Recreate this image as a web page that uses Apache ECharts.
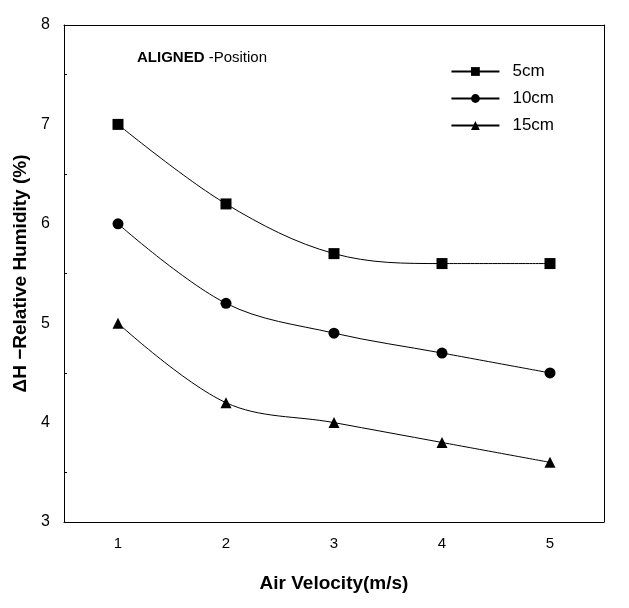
<!DOCTYPE html>
<html><head><meta charset="utf-8">
<script src="https://cdn.jsdelivr.net/npm/echarts@6/dist/echarts.min.js"></script>
<style>html,body{margin:0;background:#fff}#c{width:629px;height:608px}</style>
</head><body><div id="c"></div>
<script>
const categories = ['1','2','3','4','5'];
const s5cm = [7.0, 6.2, 5.7, 5.6, 5.6];
const s10cm = [6.0, 5.2, 4.9, 4.7, 4.5];
const s15cm = [5.0, 4.2, 4.0, 3.8, 3.6];
const ch = echarts.init(document.getElementById('c'));
const mk = (name, data, sym) => ({name, type:'line', data, smooth:0.35, symbol:sym, symbolSize:11,
  lineStyle:{color:'#000', width:1}, itemStyle:{color:'#000'}});
ch.setOption({
  animation:false,
  grid:{left:64, right:25, top:25, bottom:86},
  legend:{right:70, top:58, orient:'vertical', itemGap:10, itemWidth:48, itemHeight:11,
    textStyle:{fontFamily:'Arial', fontSize:17, color:'#000', padding:[0,0,0,8]},
    data:['5cm','10cm','15cm']},
  xAxis:[{type:'category', data:categories, boundaryGap:true,
    name:'Air Velocity(m/s)', nameLocation:'middle', nameGap:52,
    nameTextStyle:{fontFamily:'Arial', fontWeight:'bold', fontSize:19, color:'#000'},
    axisLine:{lineStyle:{color:'#000'}}, axisTick:{inside:true, alignWithLabel:true, length:6, lineStyle:{color:'#000'}},
    axisLabel:{fontFamily:'Arial', fontSize:15, color:'#000', margin:14}},
   {type:'category', data:categories, position:'top', axisLine:{lineStyle:{color:'#000'}}, axisTick:{show:false}, axisLabel:{show:false}}],
  yAxis:[{type:'value', min:3, max:8, interval:1,
    name:'ΔH −Relative Humidity (%)', nameLocation:'middle', nameGap:32,
    nameTextStyle:{fontFamily:'Arial', fontWeight:'bold', fontSize:19, color:'#000'},
    axisLine:{show:true, lineStyle:{color:'#000'}}, axisTick:{inside:true, length:6, lineStyle:{color:'#000'}},
    minorTick:{show:true, splitNumber:2, length:3, lineStyle:{color:'#000'}},
    splitLine:{show:false}, axisLabel:{fontFamily:'Arial', fontSize:16, color:'#000', margin:14}},
   {type:'value', min:3, max:8, position:'right', axisLine:{show:true, lineStyle:{color:'#000'}}, axisTick:{show:false}, axisLabel:{show:false}, splitLine:{show:false}}],
  graphic:[{type:'text', left:137, top:50, style:{text:'{b|ALIGNED} -Position', rich:{b:{fontWeight:'bold', fontFamily:'Arial', fontSize:15, fill:'#000'}}, fontFamily:'Arial', fontSize:15, fill:'#000'}}],
  series:[mk('5cm', s5cm, 'rect'), mk('10cm', s10cm, 'circle'), mk('15cm', s15cm, 'triangle')]
});
</script></body></html>
